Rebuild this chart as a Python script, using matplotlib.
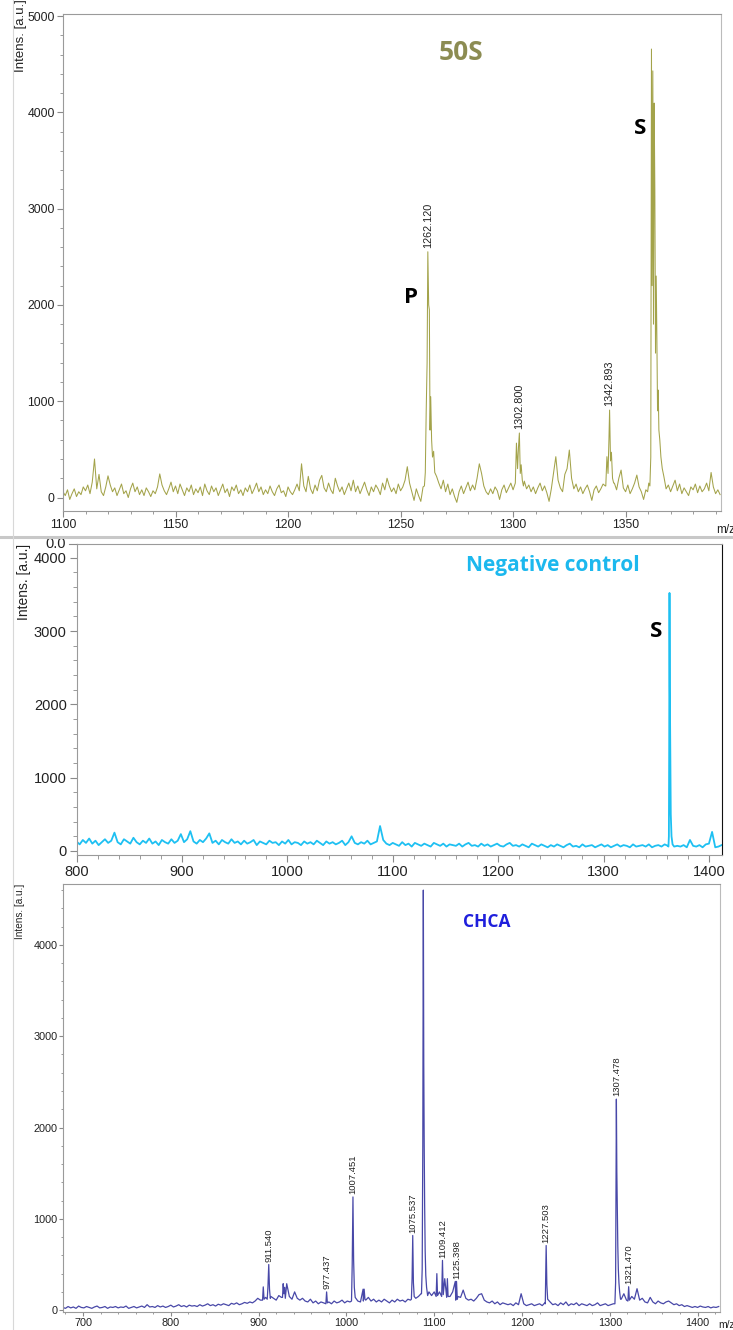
import numpy as np
import matplotlib.pyplot as plt
from matplotlib.ticker import MultipleLocator
from matplotlib.lines import Line2D

plt.rcParams['font.family'] = ['Liberation Sans', 'DejaVu Sans']

# ---- 50S spectrum (top) ----
mz_50s_start, mz_50s_step = 1100, 1.0
int_50s_base = [
    60, 20, 80, -20, 40, 90, 10, 60, 30, 110,
    70, 130, 40, 160, 400, 90, 240, 60, 20, 110,
    225, 130, 60, 100, 20, 80, 140, 40, 70, 0,
    90, 150, 60, 110, 30, 80, 20, 100, 60, 10,
    70, 40, 110, 245, 130, 70, 30, 90, 160, 60,
    120, 40, 140, 80, 20, 100, 60, 130, 30, 90,
    50, 110, 20, 140, 70, 30, 120, 60, 100, 20,
    80, 140, 50, 90, 10, 110, 70, 130, 40, 80,
    20, 100, 60, 130, 40, 90, 150, 60, 110, 30,
    80, 40, 120, 60, 20, 90, 130, 50, 70, 10,
    110, 60, 30, 80, 140, 70, 350, 120, 60, 220,
    90, 40, 130, 70, 180, 230, 100, 60, 150, 80,
    40, 200, 120, 60, 110, 30, 90, 150, 70, 180,
    60, 120, 40, 100, 160, 80, 20, 110, 60, 130,
    90, 30, 150, 80, 200, 120, 60, 100, 40, 140,
    70, 110, 180, 320, 150, 60, -30, 90, 20, -40,
    110, 300, 2000, 1000, 400, 300, 220, 150, 90, 180,
    60, 140, 30, 90, 10, -50, 60, 120, 40, 100,
    160, 70, 130, 80, 200, 350, 250, 120, 60, 30,
    90, 40, 110, 70, -20, 80, 130, 50, 100, 150,
    80, 150, 300, 670, 340, 170, 90, 130, 60, 110,
    40, 100, 150, 70, 120, 50, -40, 90, 260, 424,
    180, 100, 60, 240, 300, 493, 200, 90, 140, 60,
    110, 40, 90, 130, 60, -30, 80, 120, 50, 90,
    140, 120, 424, 908, 470, 150, 80, 200, 285, 100,
    60, 130, 40, 90, 150, 233, 110, 60, -20, 80,
    150, 400, 4000, 3000, 1600, 900, 300, 160, 90, 130,
    60, 120, 180, 70, 140, 40, 100, 60, 20, 110,
    80, 140, 50, 120, 60, 90, 150, 70, 260, 110,
    40, 80, 30,
]
peaks_50s_mz = [
    [1260.6, 1261.0, 1261.4, 1261.8, 1262.12, 1262.5, 1262.8, 1263.1, 1263.4, 1263.8, 1264.2, 1264.7, 1265.2],
    [1301.0, 1301.5, 1302.0, 1302.4, 1302.8, 1303.2, 1303.6, 1304.1, 1304.6],
    [1341.2, 1341.7, 1342.2, 1342.6, 1342.893, 1343.3, 1343.7, 1344.2, 1344.7],
    [1359.8, 1360.3, 1360.8, 1361.2, 1361.5, 1361.8, 1362.1, 1362.4, 1362.7, 1363.0,
     1363.3, 1363.6, 1363.9, 1364.2, 1364.5, 1364.8, 1365.2, 1365.7, 1366.3, 1367.0],
]
peaks_50s_int = [
    [120, 260, 900, 1400, 2552, 2000, 1950, 700, 1047, 600, 420, 480, 260],
    [150, 565, 300, 520, 670, 250, 340, 180, 120],
    [120, 424, 250, 600, 908, 380, 470, 200, 150],
    [60, 150, 120, 420, 4657, 2200, 4430, 1800, 4096, 3200,
     1500, 2300, 1670, 900, 1116, 700, 600, 420, 300, 220],
]
labels_50s = ['1262.120', '1302.800', '1342.893']

# ---- negative control spectrum (middle) ----
mz_neg_start, mz_neg_step = 800, 3.0
int_neg_base = [
    130, 90, 150, 110, 170, 100, 140, 80, 120, 160,
    110, 140, 250, 120, 90, 160, 130, 100, 180, 120,
    90, 140, 110, 170, 100, 130, 80, 150, 120, 100,
    160, 110, 140, 230, 120, 160, 270, 130, 100, 150,
    120, 170, 240, 110, 140, 90, 150, 120, 100, 160,
    110, 130, 90, 140, 100, 120, 150, 80, 130, 110,
    90, 140, 110, 120, 80, 130, 100, 150, 90, 120,
    110, 80, 130, 100, 120, 90, 140, 110, 80, 130,
    100, 120, 90, 110, 140, 80, 120, 200, 110, 90,
    120, 100, 140, 90, 110, 130, 340, 150, 100, 80,
    110, 90, 70, 120, 80, 100, 60, 110, 90, 70,
    100, 80, 60, 110, 90, 70, 100, 60, 90, 80,
    70, 100, 60, 90, 110, 70, 80, 60, 100, 70,
    90, 60, 80, 100, 70, 60, 90, 110, 70, 80,
    60, 90, 70, 50, 100, 80, 60, 90, 70, 50,
    80, 60, 90, 70, 50, 80, 100, 60, 70, 50,
    90, 60, 70, 80, 50, 70, 90, 60, 80, 50,
    70, 90, 60, 80, 70, 50, 90, 60, 70, 80,
    60, 90, 50, 70, 80, 60, 90, 70, 80, 60,
    70, 60, 80, 50, 150, 70, 60, 80, 50, 90,
    100, 260, 50, 60, 80,
]
peaks_neg_mz = [
    [1361.6, 1362.0, 1362.3, 1362.6, 1362.9, 1363.3, 1363.8, 1364.5, 1365.5],
]
peaks_neg_int = [
    [60, 200, 1400, 3520, 2250, 1400, 500, 200, 90],
]

# ---- CHCA spectrum (bottom) ----
mz_chca_start, mz_chca_step = 677, 3.0
int_chca_base = [
    30, 20, 40, 25, 35, 20, 45, 30, 25, 40,
    30, 20, 35, 45, 25, 30, 40, 20, 35, 30,
    40, 25, 35, 30, 45, 20, 30, 40, 25, 35,
    45, 30, 60, 35, 40, 30, 50, 35, 45, 30,
    40, 55, 35, 45, 60, 40, 50, 35, 55, 45,
    50, 40, 60, 45, 55, 70, 50, 60, 45, 65,
    55, 70, 60, 50, 75, 65, 80, 60, 70, 85,
    75, 90, 80, 100, 130, 110, 160, 140, 120, 150,
    130, 110, 160, 140, 180, 290, 150, 120, 200, 130,
    110, 130, 100, 90, 120, 80, 100, 70, 90, 80,
    200, 90, 70, 100, 80, 90, 110, 80, 100, 90,
    1240, 120, 100, 90, 230, 110, 140, 100, 120, 90,
    110, 90, 120, 100, 80, 110, 90, 120, 100, 110,
    90, 120, 110, 200, 130, 150, 180, 4600, 200, 200,
    160, 200, 400, 200, 250, 345, 180, 150, 200, 315,
    150, 140, 220, 130, 110, 120, 100, 130, 170, 180,
    110, 90, 80, 100, 70, 90, 60, 80, 70, 60,
    70, 50, 80, 60, 180, 70, 50, 60, 70, 50,
    60, 70, 50, 80, 708, 90, 60, 70, 50, 80,
    60, 90, 50, 70, 60, 80, 50, 70, 60, 50,
    70, 50, 60, 80, 50, 60, 70, 50, 60, 70,
    2311, 705, 120, 180, 110, 257, 150, 120, 235, 110,
    130, 90, 80, 140, 90, 70, 100, 80, 70, 90,
    100, 80, 60, 70, 50, 60, 40, 50, 40, 30,
    40, 30, 45, 35, 30, 40, 25, 35, 30, 40,
]
peaks_chca_mz = [
    [904.5, 905.3, 906.2],
    [909.8, 910.6, 911.54, 912.4, 913.3],
    [927.2, 928.0, 928.8, 929.6, 930.4],
    [976.6, 977.437, 978.3],
    [1005.8, 1006.6, 1007.451, 1008.2, 1009.0, 1010.0],
    [1019.3, 1020.2, 1021.1],
    [1074.0, 1074.8, 1075.537, 1076.3, 1077.2],
    [1085.5, 1086.3, 1087.0, 1087.6, 1088.1, 1088.6, 1089.1, 1089.7, 1090.4, 1091.3, 1092.5],
    [1102.2, 1103.0, 1103.8],
    [1108.5, 1109.412, 1110.3],
    [1114.2, 1115.0, 1115.8],
    [1124.5, 1125.398, 1126.3],
    [1226.5, 1227.503, 1228.3, 1229.2],
    [1305.8, 1306.6, 1307.0, 1307.478, 1308.0, 1308.5, 1309.1, 1309.7, 1310.4, 1311.2, 1312.2],
    [1320.6, 1321.47, 1322.3],
]
peaks_chca_int = [
    [110, 255, 120],
    [120, 250, 500, 230, 130],
    [140, 290, 180, 250, 130],
    [70, 200, 80],
    [100, 500, 1240, 550, 250, 140],
    [100, 230, 120],
    [120, 350, 818, 300, 150],
    [180, 450, 1800, 4600, 2700, 1800, 1150, 650, 380, 250, 160],
    [150, 400, 160],
    [150, 545, 170],
    [140, 345, 150],
    [110, 315, 120],
    [70, 708, 280, 120],
    [70, 300, 1200, 2311, 1513, 1100, 705, 450, 300, 200, 120],
    [100, 257, 110],
]
labels_chca = ['911.540', '977.437', '1007.451', '1075.537', '1109.412',
               '1125.398', '1227.503', '1307.478', '1321.470']


def build_spectrum(start, step, base, pk_mz, pk_int):
    mz = start + step * np.arange(len(base))
    inten = np.array(base, dtype=float)
    keep = np.ones(len(mz), dtype=bool)
    for m in pk_mz:
        keep &= ~((mz >= min(m)) & (mz <= max(m)))
    mz = np.concatenate([mz[keep]] + [np.array(m) for m in pk_mz])
    inten = np.concatenate([inten[keep]] + [np.array(i, dtype=float) for i in pk_int])
    order = np.argsort(mz)
    return mz[order], inten[order]


def style_axes(ax, tick_size, xmaj, xmin, major_len=5, pad=2.5, right_color='#bbbbbb'):
    for side in ['left', 'bottom', 'top']:
        ax.spines[side].set_color('#9a9a9a')
    ax.spines['right'].set_color(right_color)
    ax.xaxis.set_major_locator(MultipleLocator(xmaj))
    ax.xaxis.set_minor_locator(MultipleLocator(xmin))
    ax.yaxis.set_major_locator(MultipleLocator(1000))
    ax.yaxis.set_minor_locator(MultipleLocator(200))
    ax.tick_params(which='both', direction='out', colors='#8a8a8a',
                   labelcolor='#222222', labelsize=tick_size, top=False, right=False,
                   pad=pad)
    ax.tick_params(which='major', length=major_len)
    ax.tick_params(which='minor', length=major_len * 0.6)


def label_peaks(ax, pk_mz, pk_int, labels, size, gap):
    for lab in labels:
        target = float(lab)
        for m, i in zip(pk_mz, pk_int):
            hits = [abs(v - target) < 1e-6 for v in m]
            if any(hits):
                h = i[hits.index(True)]
                ax.text(target, h + gap, lab, rotation=90, ha='center', va='bottom',
                        fontsize=size, color='#222222')


fig = plt.figure(figsize=(7.33, 13.3), dpi=100)
W, H = 733, 1330


def add_axes_px(left, top, right, bottom):
    return fig.add_axes([left / W, 1 - bottom / H, (right - left) / W, (bottom - top) / H])


# top panel
ax1 = add_axes_px(63, 14, 721, 511)
mz, it = build_spectrum(mz_50s_start, mz_50s_step, int_50s_base, peaks_50s_mz, peaks_50s_int)
ax1.plot(mz, it, color='#a3a34a', lw=0.75)
ax1.set_xlim(1100, 1392.4)
ax1.set_ylim(-140, 5021)
style_axes(ax1, 8.8, 50, 10, major_len=4, pad=2)
label_peaks(ax1, peaks_50s_mz, peaks_50s_int, labels_50s, 7.8, 40)
ax1.text(1277, 4626, '50S', family='Open Sans', weight='bold', fontsize=19,
         color='#8c8c52', ha='center', va='center')
ax1.text(1356.4, 3837, 'S', family='Open Sans', weight='bold', fontsize=16,
         color='black', ha='center', va='center')
ax1.text(1254.7, 2082, 'P', family='Open Sans', weight='bold', fontsize=16,
         color='black', ha='center', va='center')
ax1.text(-0.064, 1.03, 'Intens. [a.u.]', transform=ax1.transAxes, rotation=90,
         ha='center', va='top', fontsize=9.5, color='#222222')
fig.text(726 / W, 1 - 530 / H, 'm/z', fontsize=8.5, color='#222222', ha='center', va='center')

# middle panel
ax2 = add_axes_px(76.5, 544, 722, 855)
mz, it = build_spectrum(mz_neg_start, mz_neg_step, int_neg_base, peaks_neg_mz, peaks_neg_int)
ax2.plot(mz, it, color='#1ec0f2', lw=1.3)
ax2.set_xlim(800, 1412.4)
ax2.set_ylim(-55, 4188)
style_axes(ax2, 10.5, 100, 20, major_len=5, pad=2, right_color='#111111')
ax2.text(1252, 3888, 'Negative control', family='Open Sans', weight='bold', fontsize=15,
         color='#1cb8ee', ha='center', va='center')
ax2.text(1349.8, 2988, 'S', family='Open Sans', weight='bold', fontsize=16,
         color='black', ha='center', va='center')
ax2.text(-0.082, 1.0, 'Intens. [a.u.]', transform=ax2.transAxes, rotation=90,
         ha='center', va='top', fontsize=10, color='#222222')
ax2.annotate('0.0', xy=(0, 1), xycoords='axes fraction', xytext=(-8, 0),
             textcoords='offset points', ha='right', va='center', fontsize=10.5,
             color='#222222')
ax2.add_line(Line2D([-0.012, 0], [1, 1], transform=ax2.transAxes, color='#8a8a8a',
                    lw=0.8, clip_on=False))

# bottom panel
ax3 = add_axes_px(63, 884, 720, 1312)
mz, it = build_spectrum(mz_chca_start, mz_chca_step, int_chca_base, peaks_chca_mz, peaks_chca_int)
ax3.plot(mz, it, color='#4848a8', lw=0.9)
ax3.set_xlim(677.2, 1425.5)
ax3.set_ylim(-20, 4667)
style_axes(ax3, 7.8, 100, 20, major_len=3, pad=1)
label_peaks(ax3, peaks_chca_mz, peaks_chca_int, labels_chca, 6.8, 30)
ax3.text(1160, 4252, 'CHCA', family='Open Sans', weight='bold', fontsize=12.5,
         color='#1f1fdc', ha='center', va='center')
ax3.text(-0.065, 1.0, 'Intens. [a.u.]', transform=ax3.transAxes, rotation=90,
         ha='center', va='top', fontsize=7.2, color='#222222')
fig.text(727 / W, 1 - 1325 / H, 'm/z', fontsize=7.5, color='#222222', ha='center', va='center')

# frame lines between the stacked spectra
fig.add_artist(Line2D([0, 1], [1 - 537 / H, 1 - 537 / H], color='#c8c8c8', lw=2.2))
fig.add_artist(Line2D([13 / W, 13 / W], [0, 1], color='#d8d8d8', lw=0.8))

fig.savefig('out.png', dpi=100)
